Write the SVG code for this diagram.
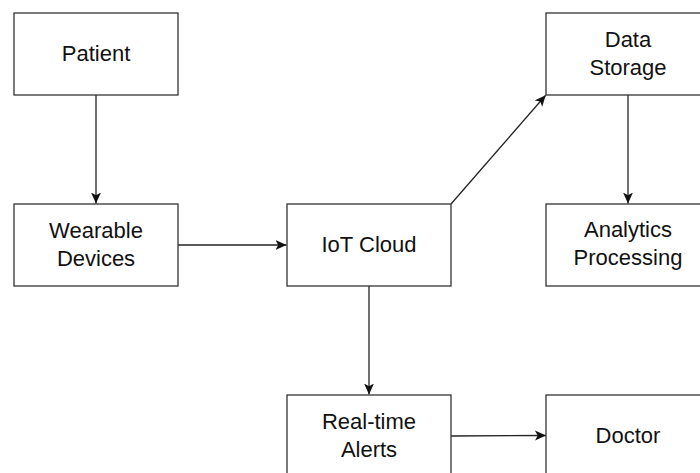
<svg xmlns="http://www.w3.org/2000/svg" width="700" height="473" viewBox="0 0 700 473">
<style>
.box{fill:#fff;stroke:#333;stroke-width:1.3}
.lbl{font-family:"Liberation Sans",Arial,sans-serif;font-size:22px;fill:#111;text-anchor:middle}
.edge{fill:none;stroke:#222;stroke-width:1.3}
</style>
<defs>
<marker id="arr" viewBox="0 0 10 10" refX="10" refY="5" markerWidth="11" markerHeight="11" markerUnits="userSpaceOnUse" orient="auto">
<path d="M0,0.5 L10,5 L0,9.5 L2.5,5 Z" fill="#111"/>
</marker>
</defs>
<rect width="700" height="473" fill="#fff"/>
<g id="edges">
<line class="edge" x1="96" y1="95" x2="96" y2="203.5" marker-end="url(#arr)"/>
<line class="edge" x1="178" y1="245" x2="286.5" y2="245" marker-end="url(#arr)"/>
<line class="edge" x1="451" y1="204" x2="545.7" y2="95.3" marker-end="url(#arr)"/>
<line class="edge" x1="628" y1="95" x2="628" y2="203.5" marker-end="url(#arr)"/>
<line class="edge" x1="369" y1="286" x2="369" y2="394.5" marker-end="url(#arr)"/>
<line class="edge" x1="451" y1="436" x2="546" y2="435.5" marker-end="url(#arr)"/>
</g>
<g id="patient"><rect class="box" x="14" y="13" width="164" height="82"/><text class="lbl" x="96" y="61">Patient</text></g>
<g id="data-storage"><rect class="box" x="546" y="13" width="164" height="82"/><text class="lbl" x="628" y="47">Data</text><text class="lbl" x="628" y="75">Storage</text></g>
<g id="wearable"><rect class="box" x="14" y="204" width="164" height="82"/><text class="lbl" x="96" y="238">Wearable</text><text class="lbl" x="96" y="266">Devices</text></g>
<g id="iot-cloud"><rect class="box" x="287" y="204" width="164" height="82"/><text class="lbl" x="369" y="252">IoT Cloud</text></g>
<g id="analytics"><rect class="box" x="546" y="204" width="164" height="82"/><text class="lbl" x="628" y="237">Analytics</text><text class="lbl" x="628" y="265">Processing</text></g>
<g id="alerts"><rect class="box" x="287" y="395" width="164" height="82"/><text class="lbl" x="369" y="429">Real-time</text><text class="lbl" x="369" y="457">Alerts</text></g>
<g id="doctor"><rect class="box" x="546" y="395" width="164" height="82"/><text class="lbl" x="628" y="443">Doctor</text></g>
</svg>
